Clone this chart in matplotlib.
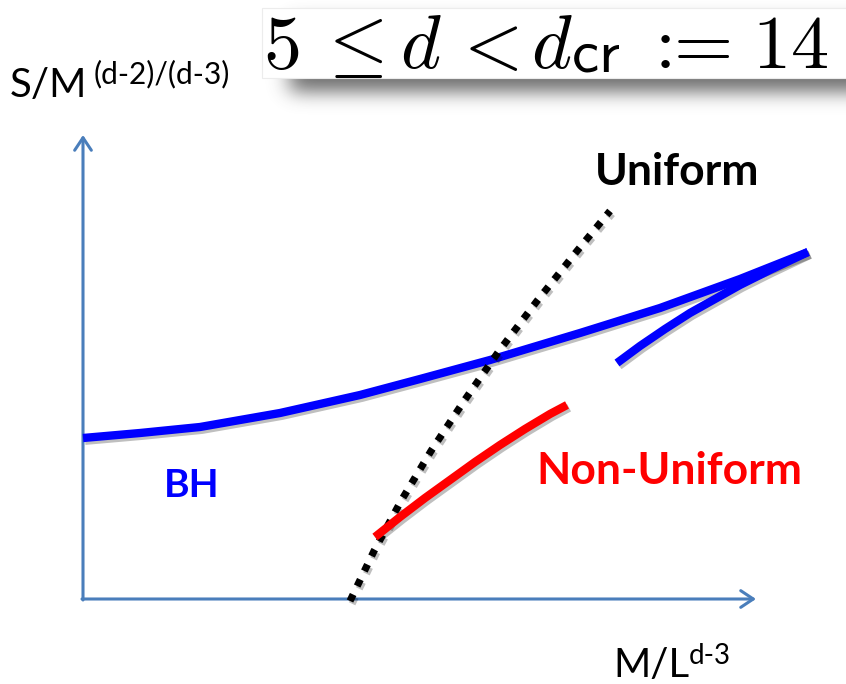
import numpy as np
import matplotlib
matplotlib.use("Agg")
import matplotlib.pyplot as plt
import matplotlib.patheffects as pe
from matplotlib.textpath import TextPath
from matplotlib.font_manager import FontProperties

# Schematic phase diagram: entropy vs. mass for black holes and black strings
W, H = 846, 684

# Curves (x, y) in canvas pixel units, y measured downward
bh_x = [83, 140, 200, 280, 360, 420, 490, 580, 660, 740, 808]
bh_y = [438, 433, 427, 413, 395, 379, 360, 333, 308, 279, 252]

bh_branch_x = [617, 640, 665, 690, 715, 740, 770, 808]
bh_branch_y = [363, 346, 329, 313, 299, 285, 270, 252]

nonuniform_x = [375, 400, 425, 450, 475, 500, 525, 550, 567]
nonuniform_y = [537, 517, 498, 480, 462, 445, 429, 414, 405]

uniform_x = [350, 374, 401, 431, 464, 499, 537, 577, 610]
uniform_y = [601, 551, 501, 451, 401, 351, 301, 251, 211]

# Axis origin and arrow tips
origin = (83, 599)
x_tip = (756, 599)
y_tip = (83, 135)

# Title tokens (math) and the left edge of their ink
title_tokens = [r"$5$", r"$\leq$", r"$d$", r"$<$", r"$d$", r"$14$"]
title_x = [263, 328, 400, 463, 531, 752]
title_sub = r"$\mathsf{cr}$"
title_sub_x = 571
# plain roman glyphs of the definition sign
title_plain = [":", "="]
title_plain_x = [655, 674]

AXIS_BLUE = "#4A7EBB"
LINE_BLUE = "#0000FF"
LINE_RED = "#FF0000"

plt.rcParams["mathtext.fontset"] = "cm"

fig = plt.figure(figsize=(W / 100, H / 100), dpi=100)
ax = fig.add_axes([0, 0, 1, 1])
ax.set_xlim(0, W)
ax.set_ylim(H, 0)
ax.axis("off")


def ink_left(s, size_pt, prop=None):
    """Horizontal offset (px) from the text origin to the first inked pixel."""
    tp = TextPath((0, 0), s, size=size_pt * 100 / 72, prop=prop)
    return tp.vertices[:, 0].min()


# --- title box with a soft drop shadow ---
def blur1d(a, sigma, axis):
    r = int(3 * sigma)
    k = np.exp(-0.5 * (np.arange(-r, r + 1) / sigma) ** 2)
    k /= k.sum()
    return np.apply_along_axis(lambda v: np.convolve(v, k, mode="same"), axis, a)

shadow = np.zeros((H, W + 60))
shadow[22:92, 290:W + 60] = 1.0
shadow = blur1d(blur1d(shadow, 9, 0), 10, 1)[:, :W]
rgba = np.zeros((H, W, 4))
rgba[..., :3] = 0.3
rgba[..., 3] = shadow * 0.8
ax.imshow(rgba, extent=(0, W, H, 0), zorder=1, interpolation="bilinear")
ax.add_patch(plt.Rectangle((262, 8), W - 262 + 5, 70, facecolor="white",
                           edgecolor="#ececec", lw=0.8, zorder=2))

TITLE_PT = 55
SUB_PT = 44
for tok, tx in zip(title_tokens, title_x):
    ax.text(tx - ink_left(tok, TITLE_PT), 68, tok, fontsize=TITLE_PT,
            va="baseline", ha="left", zorder=3, color="black")
ax.text(title_sub_x - ink_left(title_sub, SUB_PT), 71, title_sub, fontsize=SUB_PT,
        va="baseline", ha="left", zorder=3, color="black")
cm_roman = FontProperties(family="cmr10", size=TITLE_PT)
for tok, tx in zip(title_plain, title_plain_x):
    ax.text(tx - ink_left(tok, TITLE_PT, cm_roman), 68, tok, fontproperties=cm_roman,
            va="baseline", ha="left", zorder=3, color="black")

# --- axes arrows ---
arrow_kw = dict(arrowstyle="->,head_length=0.9,head_width=0.6",
                color=AXIS_BLUE, lw=2.2, shrinkA=0, shrinkB=0)
ax.annotate("", xy=x_tip, xytext=(origin[0] - 1, origin[1]), arrowprops=arrow_kw, zorder=4)
ax.annotate("", xy=y_tip, xytext=(origin[0], origin[1] + 1), arrowprops=arrow_kw, zorder=4)

# --- curves ---
shadow_fx = [pe.SimpleLineShadow(offset=(1.5, -2), alpha=0.25, shadow_color="black"), pe.Normal()]
line_kw = dict(lw=6, solid_capstyle="butt", solid_joinstyle="round", path_effects=shadow_fx)
ax.plot(bh_x, bh_y, color=LINE_BLUE, zorder=5, **line_kw)
ax.plot(bh_branch_x, bh_branch_y, color=LINE_BLUE, zorder=5, **line_kw)
ax.plot(uniform_x, uniform_y, color="black", lw=5.2, linestyle=(0, (1, 1.3)),
        dash_capstyle="butt", path_effects=shadow_fx, zorder=6)
ax.plot(nonuniform_x, nonuniform_y, color=LINE_RED, zorder=7, **line_kw)

# --- labels ---
FONT = "Lato"
ax.text(595, 185, "Uniform", fontsize=32, fontweight="bold", family=FONT,
        color="black", va="baseline", ha="left", zorder=8)
ax.text(536, 484, "Non-Uniform", fontsize=32, fontweight="bold", family=FONT,
        color=LINE_RED, va="baseline", ha="left", zorder=8)
ax.text(164, 497, "BH", fontsize=28, fontweight="bold", family=FONT,
        color=LINE_BLUE, va="baseline", ha="left", zorder=8)

ax.text(10, 97, "S/M", fontsize=29, family=FONT, color="black",
        va="baseline", ha="left", zorder=8)
ax.text(94, 83, "(d-2)/(d-3)", fontsize=21.5, family=FONT, color="black",
        va="baseline", ha="left", zorder=8)

ax.text(613, 677, "M/L", fontsize=29, family=FONT, color="black",
        va="baseline", ha="left", zorder=8)
ax.text(689, 664, "d-3", fontsize=20, family=FONT, color="black",
        va="baseline", ha="left", zorder=8)

fig.savefig("out.png", dpi=100, facecolor="white")
